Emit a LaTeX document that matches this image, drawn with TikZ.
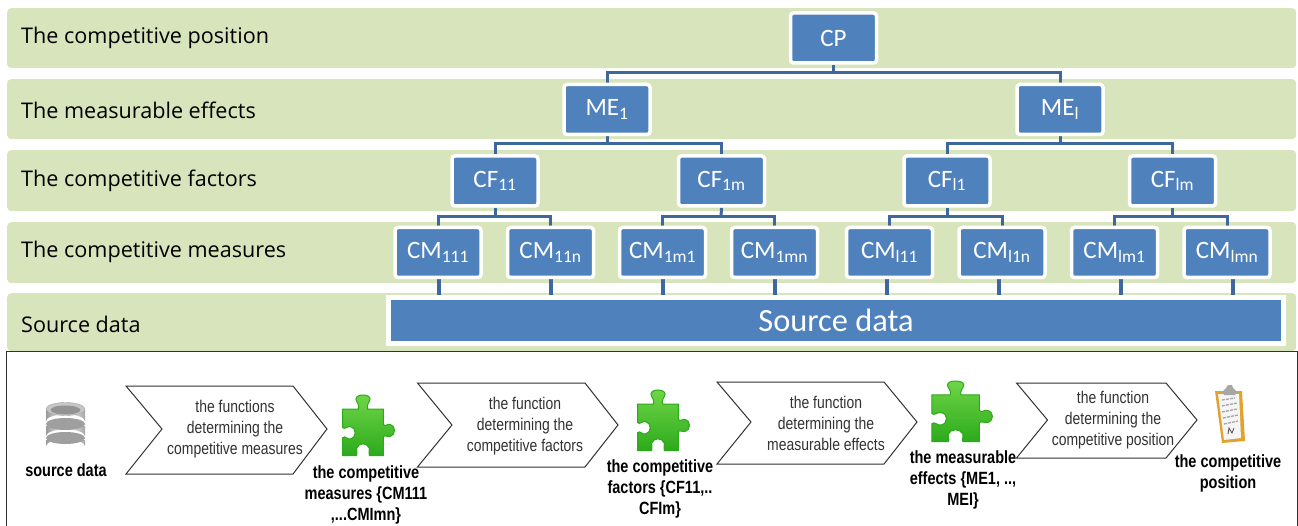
\documentclass[tikz,border=0pt]{standalone}
\usepackage{fontspec}
\usepackage{xcolor}
\usetikzlibrary{backgrounds,positioning}
\setmainfont{Carlito}
\newfontfamily\rowfont{Open Sans}
\newfontfamily\narrowfont[FakeStretch=0.82]{Liberation Sans}
\definecolor{bandgreen}{RGB}{216,228,188}
\definecolor{boxblue}{RGB}{79,129,189}
\definecolor{linkblue}{RGB}{62,104,155}
\definecolor{darktxt}{RGB}{50,50,50}
\definecolor{puzzlelight}{RGB}{112,214,72}
\definecolor{puzzledark}{RGB}{44,170,28}
\definecolor{boardorange}{RGB}{226,162,48}

\tikzset{
  puzzle/.pic={
    \path[scale=1/3,draw=puzzledark,line width=1pt,top color=puzzlelight,bottom color=puzzledark]
      (38,72) -- (85,72) .. controls (90,60) and (78,50) .. (78,42)
      .. controls (78,26) and (120,26) .. (120,42)
      .. controls (120,50) and (108,60) .. (113,72) -- (160,72) -- (160,118)
      .. controls (165,128) and (172,115) .. (180,118)
      .. controls (198,122) and (198,150) .. (180,155)
      .. controls (172,158) and (165,148) .. (160,155) -- (160,212) -- (118,212)
      .. controls (112,205) and (122,200) .. (118,190)
      .. controls (112,172) and (85,172) .. (80,190)
      .. controls (76,200) and (86,205) .. (80,212) -- (38,212) -- (38,158)
      .. controls (45,150) and (52,165) .. (62,162)
      .. controls (80,158) and (80,128) .. (62,125)
      .. controls (52,122) and (45,135) .. (38,128) -- cycle;
  }
}

\begin{document}
\begin{tikzpicture}[x=1pt,y=-1pt]
    \tikzstyle{band}=[rectangle,fill=bandgreen,rounded corners=4pt,inner sep=0pt,%
    minimum width=1289pt,anchor=north west] %
    \tikzstyle{rowlabel}=[anchor=west,inner sep=0pt,font=\rowfont\fontsize{21.6}{24}\selectfont] %
    \tikzstyle{kpi}=[rectangle,draw=white,fill=boxblue,line width=3.5pt,rounded corners=3pt,%
    text=white,inner sep=0pt,minimum width=86pt,minimum height=50pt,%
    font=\fontsize{25}{27}\selectfont] %
    \tikzstyle{link}=[draw=linkblue,line width=3pt] %
    \tikzstyle{chevron}=[draw=darktxt,line width=1pt,fill=white] %
    \tikzstyle{steptxt}=[align=center,inner sep=0pt,text=darktxt,%
    font=\narrowfont\fontsize{17}{21}\selectfont] %
    \tikzstyle{itemtxt}=[align=center,inner sep=0pt,text=black,%
    font=\narrowfont\bfseries\fontsize{17.7}{21}\selectfont] %

    \useasboundingbox (0,0) rectangle (1298,526);

    \begin{pgfonlayer}{background}
      \node[band,minimum height=60pt] (bandCP) at (7,8) {};
      \node[band,minimum height=60pt] (bandME) at (7,79) {};
      \node[band,minimum height=61pt] (bandCF) at (7,150) {};
      \node[band,minimum height=61pt] (bandCM) at (7,222) {};
      \node[band,minimum height=58pt] (bandSD) at (7,293) {};
    \end{pgfonlayer}

    \node[rowlabel] (lblCP) at (21,38) {The competitive position};
    \node[rowlabel] (lblME) at (21,110) {The measurable effects};
    \node[rowlabel] (lblCF) at (21,181) {The competitive factors};
    \node[rowlabel] (lblCM) at (21,252) {The competitive measures};
    \node[rowlabel] (lblSD) at (21,324) {Source data};

    \node[kpi] (CP) at (833.5,38) {CP};

    \node[kpi] (ME1) at (607,109.5) {ME\textsubscript{1}};
    \node[kpi] (MEl) at (1060,109.5) {ME\textsubscript{l}};

    \node[kpi] (CF11) at (495,181) {CF\textsubscript{11}};
    \node[kpi] (CF1m) [right=137pt of CF11] {CF\textsubscript{1m}};
    \node[kpi] (CFl1) [right=136pt of CF1m] {CF\textsubscript{l1}};
    \node[kpi] (CFlm) [right=136pt of CFl1] {CF\textsubscript{lm}};

    \node[kpi] (CM111) at (438,252.5) {CM\textsubscript{111}};
    \node[kpi] (CM11n) [right=23pt of CM111] {CM\textsubscript{11n}};
    \node[kpi] (CM1m1) [right=22.5pt of CM11n] {CM\textsubscript{1m1}};
    \node[kpi] (CM1mn) [right=22.5pt of CM1m1] {CM\textsubscript{1mn}};
    \node[kpi] (CMl11) [right=25.5pt of CM1mn] {CM\textsubscript{l11}};
    \node[kpi] (CMl1n) [right=23pt of CMl11] {CM\textsubscript{l1n}};
    \node[kpi] (CMlm1) [right=23pt of CMl1n] {CM\textsubscript{lm1}};
    \node[kpi] (CMlmn) [right=23pt of CMlm1] {CM\textsubscript{lmn}};

    \node[rectangle,draw=white,fill=boxblue,line width=5pt,text=white,inner sep=0pt,%
      minimum width=895pt,minimum height=46pt,font=\fontsize{32.4}{34}\selectfont] (SRC) at (836,320.5) {Source data};

    \coordinate (forkCP) at (833.5,73);
    \coordinate (forkME1) at (607,144);
    \coordinate (forkMEl) at (1060,144);
    \coordinate (forkCF11) at (495,217);
    \coordinate (forkCF1m) at (721,217);
    \coordinate (forkCFl1) at (947,217);
    \coordinate (forkCFlm) at (1172.5,217);

    \coordinate (tap1) at (439,298);
    \coordinate (tap2) at (551,298);
    \coordinate (tap3) at (663,298);
    \coordinate (tap4) at (775,298);
    \coordinate (tap5) at (887,298);
    \coordinate (tap6) at (999,298);
    \coordinate (tap7) at (1121,298);
    \coordinate (tap8) at (1233,298);

    \begin{pgfonlayer}{background}
      \path[link] (CP.south) -- (forkCP);
      \path[link] (ME1.north) |- (forkCP) -| (MEl.north);

      \path[link] (ME1.south) -- (forkME1);
      \path[link] (CF11.north) |- (forkME1) -| (CF1m.north);
      \path[link] (MEl.south) -- (forkMEl);
      \path[link] (CFl1.north) |- (forkMEl) -| (CFlm.north);

      \path[link] (CF11.south) -- (forkCF11);
      \path[link] (CM111.north) |- (forkCF11) -| (CM11n.north);
      \path[link] (CF1m.south) -- (forkCF1m);
      \path[link] (CM1m1.north) |- (forkCF1m) -| (CM1mn.north);
      \path[link] (CFl1.south) -- (forkCFl1);
      \path[link] (CMl11.north) |- (forkCFl1) -| (CMl1n.north);
      \path[link] (CFlm.south) -- (forkCFlm);
      \path[link] (CMlm1.north) |- (forkCFlm) -| (CMlmn.north);

      \path[link,line width=4pt] (CM111.south -| tap1) -- (tap1);
      \path[link,line width=4pt] (CM11n.south -| tap2) -- (tap2);
      \path[link,line width=4pt] (CM1m1.south -| tap3) -- (tap3);
      \path[link,line width=4pt] (CM1mn.south -| tap4) -- (tap4);
      \path[link,line width=4pt] (CMl11.south -| tap5) -- (tap5);
      \path[link,line width=4pt] (CMl1n.south -| tap6) -- (tap6);
      \path[link,line width=4pt] (CMlm1.south -| tap7) -- (tap7);
      \path[link,line width=4pt] (CMlmn.south -| tap8) -- (tap8);
    \end{pgfonlayer}

    % lower panel
    \draw[fill=white,draw=darktxt,line width=1.2pt] (6.5,526) -- (6.5,351.5) -- (1297.5,351.5) -- (1297.5,526);

    \draw[chevron] (126,386) -- (293,386) -- (327,429) -- (293,474) -- (126,474) -- (162,429) -- cycle;
    \draw[chevron] (417.5,383) -- (585,383) -- (618,425) -- (585,467) -- (417.5,467) -- (452,425) -- cycle;
    \draw[chevron] (717,382) -- (884,382) -- (917,422) -- (884,464) -- (717,464) -- (751,422) -- cycle;
    \draw[chevron] (1016.5,383) -- (1166,383) -- (1197,420) -- (1166,458) -- (1016.5,458) -- (1047.5,420) -- cycle;

    \node[steptxt] (fnCM) at (235,429) {the functions\\determining the\\competitive measures};
    \node[steptxt] (fnCF) at (525,426) {the function\\determining the\\competitive factors};
    \node[steptxt] (fnME) at (826,423) {the function\\determining the\\measurable effects};
    \node[steptxt] (fnCP) at (1113,420) {the function\\determining the\\competitive position};

    \node[itemtxt] (itSD) at (66,470) {source data};
    \node[itemtxt] (itCM) at (366,495) {the competitive\\measures \{CM111\\,...CMImn\}};
    \node[itemtxt] (itCF) at (660,489) {the competitive\\factors \{CF11,..\\CFIm\}};
    \node[itemtxt] (itME) at (963,480) {the measurable\\effects \{ME1, ..,\\MEI\}};
    \node[itemtxt] (itCP) at (1228,473) {the competitive\\position};

    \pic at (330,385) {puzzle};
    \pic at (625,380) {puzzle};
    \pic[xscale=1.17] at (917,371) {puzzle};

    % disk stack
    \shade[left color=gray!80,right color=gray!70,middle color=white] (46,440) -- (46,446) arc[start angle=180,end angle=360,x radius=19.5,y radius=6.5] -- (85,440) -- cycle;
    \fill[gray!75] (65.5,438) ellipse[x radius=19.5,y radius=6];
    \shade[left color=gray!80,right color=gray!70,middle color=white] (46,426) -- (46,436) arc[start angle=180,end angle=360,x radius=19.5,y radius=6.5] -- (85,426) -- cycle;
    \fill[gray!75] (65.5,424) ellipse[x radius=19.5,y radius=6];
    \shade[left color=gray!80,right color=gray!70,middle color=white] (46,410) -- (46,421) arc[start angle=180,end angle=360,x radius=19.5,y radius=6.5] -- (85,410) -- cycle;
    \fill[gray!45,draw=gray!70] (65.5,409) ellipse[x radius=19.5,y radius=6.5];
    \fill[gray!85] (65.5,410) ellipse[x radius=15,y radius=4.5];

    % clipboard
    \fill[boardorange] (1215,391) -- (1242,391) -- (1245,441) -- (1222,443) -- cycle;
    \fill[white!92!gray] (1218,394) -- (1239,394) -- (1241,438) -- (1224,440) -- cycle;
    \fill[gray!70] (1222,392) -- (1226,388) -- (1228,385) -- (1232,385) -- (1233,388) -- (1237,392) -- (1235,395) -- (1224,395) -- cycle;
    \draw[gray!70,line width=1.3pt,dash pattern=on 3pt off 1pt] (1222,400) -- (1235,398);
    \draw[gray!70,line width=1.3pt,dash pattern=on 3pt off 1pt] (1222,406) -- (1237,403);
    \draw[gray!70,line width=1.3pt,dash pattern=on 3pt off 1pt] (1222,412) -- (1237,409);
    \draw[gray!70,line width=1.3pt,dash pattern=on 3pt off 1pt] (1223,418) -- (1238,415);
    \draw[gray!70,line width=1.3pt,dash pattern=on 3pt off 1pt] (1224,424) -- (1238,421);
    \draw[black!70,line width=0.8pt] (1228,434) -- (1229,428) -- (1232,433) -- (1234,428);
\end{tikzpicture}
\end{document}
